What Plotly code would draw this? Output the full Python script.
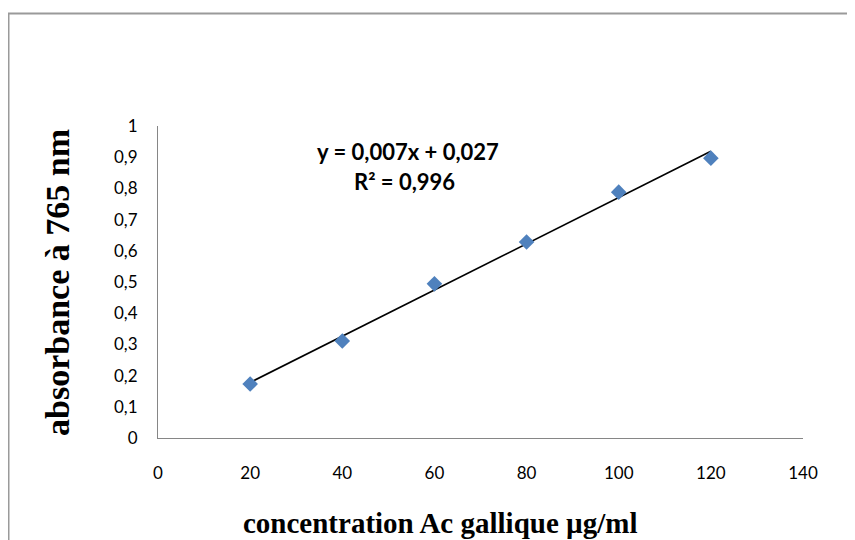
import numpy as np
import plotly.graph_objects as go

# ---- data ----
concentration = [20, 40, 60, 80, 100, 120]
absorbance = [0.173, 0.311, 0.494, 0.628, 0.788, 0.897]

x_tick_vals = [0, 20, 40, 60, 80, 100, 120, 140]
x_tick_text = ["0", "20", "40", "60", "80", "100", "120", "140"]
y_tick_vals = [0, 0.1, 0.2, 0.3, 0.4, 0.5, 0.6, 0.7, 0.8, 0.9, 1.0]
y_tick_text = ["0", "0,1", "0,2", "0,3", "0,4", "0,5", "0,6", "0,7", "0,8", "0,9", "1"]

equation_text = "y = 0,007x + 0,027"
r2_text = "R² = 0,996"
x_title = "concentration Ac gallique µg/ml"
y_title = "absorbance à 765 nm"

# linear trendline computed from the data
slope, intercept = np.polyfit(concentration, absorbance, 1)
trend_x = [min(concentration), max(concentration)]
trend_y = [slope * v + intercept for v in trend_x]

# page has an 8px body margin; figure sized to fit the window
OFF = 8
W, H = 855 - OFF, 540 - OFF
ML, MT = 158 - OFF, 126 - OFF
MR = W - (803 - OFF)
MB = H - (438 - OFF)
PW, PH = W - ML - MR, H - MT - MB


def px_to_paper_x(px):  # page pixel -> paper
    return (px - OFF - ML) / PW


def px_to_paper_y(py):
    return (H - MB - (py - OFF)) / PH


fig = go.Figure()
fig.add_trace(go.Scatter(
    x=trend_x, y=trend_y, mode="lines",
    line=dict(color="black", width=1.6),
    hoverinfo="skip", showlegend=False,
))
fig.add_trace(go.Scatter(
    x=concentration, y=absorbance, mode="markers",
    marker=dict(symbol="diamond", size=12, color="#4F81BD",
                line=dict(width=0)),
    showlegend=False,
))

fig.update_layout(
    width=W, height=H,
    margin=dict(l=ML, r=MR, t=MT, b=MB),
    paper_bgcolor="white", plot_bgcolor="white",
    font=dict(family="Lato, Open Sans, sans-serif", color="black", size=17),
    showlegend=False,
    xaxis=dict(
        range=[0, 140], tickvals=x_tick_vals, ticktext=x_tick_text,
        showgrid=False, zeroline=False, showline=True,
        linecolor="#868686", linewidth=1, ticks="",
        ticklabelstandoff=20, tickfont=dict(size=17),
        fixedrange=True,
    ),
    yaxis=dict(
        range=[0, 1], tickvals=y_tick_vals, ticktext=y_tick_text,
        showgrid=False, zeroline=False, showline=True,
        linecolor="#868686", linewidth=1, ticks="",
        ticklabelstandoff=16, tickfont=dict(size=17),
        fixedrange=True,
    ),
    shapes=[dict(
        type="rect", xref="paper", yref="paper",
        x0=px_to_paper_x(8.5), x1=px_to_paper_x(880),
        y0=px_to_paper_y(580), y1=px_to_paper_y(13.5),
        line=dict(color="#9a9a9a", width=2), fillcolor="rgba(0,0,0,0)",
        layer="below",
    )],
    annotations=[
        dict(text="<b>" + equation_text + "</b>", x=54.2, y=0.917,
             xref="x", yref="y", showarrow=False,
             xanchor="center", yanchor="middle",
             font=dict(family="Lato", size=22, color="black")),
        dict(text="<b>" + r2_text + "</b>", x=53.6, y=0.821,
             xref="x", yref="y", showarrow=False,
             xanchor="center", yanchor="middle",
             font=dict(family="Lato", size=22, color="black")),
        dict(text="<b>" + x_title + "</b>",
             x=px_to_paper_x(440), y=px_to_paper_y(523),
             xref="paper", yref="paper", showarrow=False,
             xanchor="center", yanchor="middle",
             font=dict(family="Liberation Serif", size=29, color="black")),
        dict(text="<b>" + y_title + "</b>", textangle=-90,
             x=px_to_paper_x(57), y=px_to_paper_y(282),
             xref="paper", yref="paper", showarrow=False,
             xanchor="center", yanchor="middle",
             font=dict(family="Liberation Serif", size=34, color="black")),
    ],
)

fig.write_html("out.html")
